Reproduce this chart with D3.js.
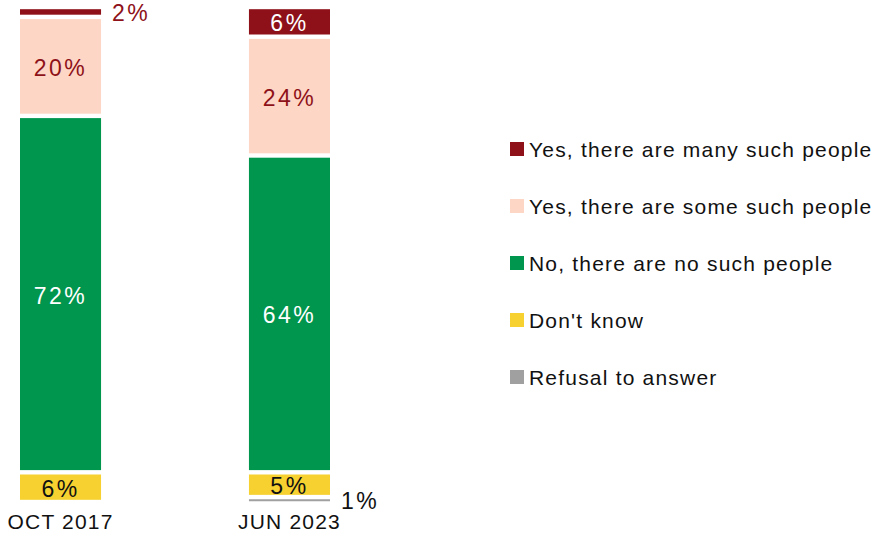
<!DOCTYPE html>
<html>
<head>
<meta charset="utf-8">
<script src="https://cdn.jsdelivr.net/npm/d3@7"></script>
<style>
  body { margin: 0; background: #fff; }
  svg text { font-family: "Liberation Sans", Arial, sans-serif; }
</style>
</head>
<body>
<div id="chart"></div>
<script>
// survey waves
const categories = ["OCT 2017", "JUN 2023"];

// answers, bottom of the stack first
const seriesNames = [
    "Refusal to answer",
    "Don't know",
    "No, there are no such people",
    "Yes, there are some such people",
    "Yes, there are many such people"
];
const refusal = [0, 1];
const dontKnow = [6, 5];
const noPeople = [72, 64];
const somePeople = [20, 24];
const manyPeople = [2, 6];

const colors = ["#a0a0a0", "#f6d12f", "#00964e", "#fdd6c5", "#8e1119"];
const labelColors = ["#111", "#111", "#fff", "#8e1119", "#fff"];

const width = 874, height = 537;

const rows = categories.map((c, i) => ({
    cat: c,
    [seriesNames[0]]: refusal[i],
    [seriesNames[1]]: dontKnow[i],
    [seriesNames[2]]: noPeople[i],
    [seriesNames[3]]: somePeople[i],
    [seriesNames[4]]: manyPeople[i]
}));

const stacked = d3.stack().keys(seriesNames)(rows);

const svg = d3.select('#chart')
    .append('svg')
    .attr('width', width)
    .attr('height', height);

const x = d3.scaleBand()
    .domain(categories)
    .range([20, 330])
    .paddingInner(0.646)
    .paddingOuter(0);

const y = d3.scaleLinear()
    .domain([0, 100])
    .range([502, 7]);

const gap = 2.2; // white space left between segments

// Bars
stacked.forEach((layer, li) => {
    const g = svg.append('g');

    g.selectAll('rect')
        .data(layer.filter(d => d[1] - d[0] > 0))
        .enter()
        .append('rect')
        .attr('x', d => x(d.data.cat))
        .attr('width', x.bandwidth())
        .attr('y', d => y(d[1]) + gap)
        .attr('height', d => Math.max(2, y(d[0]) - y(d[1]) - 2 * gap))
        .attr('fill', colors[li]);

    // value labels: inside when there is room, otherwise to the right
    g.selectAll('text')
        .data(layer.filter(d => d[1] - d[0] > 0))
        .enter()
        .append('text')
        .attr('x', d => {
            const v = d[1] - d[0];
            return v >= 5 ? x(d.data.cat) + x.bandwidth() / 2 : x(d.data.cat) + x.bandwidth() + 11;
        })
        .attr('y', d => (y(d[0]) + y(d[1])) / 2 + 9.5)
        .attr('text-anchor', d => (d[1] - d[0]) >= 5 ? 'middle' : 'start')
        .attr('font-size', 23)
        .attr('letter-spacing', 2.5)
        .attr('fill', d => (d[1] - d[0]) >= 5 ? labelColors[li] : (li === 0 ? '#111' : colors[li]))
        .text(d => `${d[1] - d[0]}%`);
});

// Category axis labels
const xAxis = d3.axisBottom(x).tickSize(0).tickPadding(0);
const axisG = svg.append('g')
    .attr('transform', 'translate(0,514)')
    .call(xAxis);
axisG.select('.domain').remove();
axisG.selectAll('text')
    .attr('font-size', 21)
    .attr('letter-spacing', 1.2)
    .attr('fill', '#111')
    .attr('dy', '0.71em')
    .attr('font-family', '"Liberation Sans", Arial, sans-serif');

// Legend, top entry is the top of the stack
const legendItems = seriesNames.map((n, i) => ({ name: n, color: colors[i] })).reverse();

const legend = svg.append('g')
    .selectAll('g')
    .data(legendItems)
    .enter()
    .append('g')
    .attr('transform', (d, i) => `translate(510,${149 + i * 57})`);

legend.append('rect')
    .attr('x', 0)
    .attr('y', -7)
    .attr('width', 14)
    .attr('height', 14)
    .attr('fill', d => d.color);

legend.append('text')
    .attr('x', 19)
    .attr('y', 7.5)
    .attr('font-size', 21)
    .attr('letter-spacing', 1.2)
    .attr('fill', '#111')
    .text(d => d.name);
</script>
</body>
</html>
